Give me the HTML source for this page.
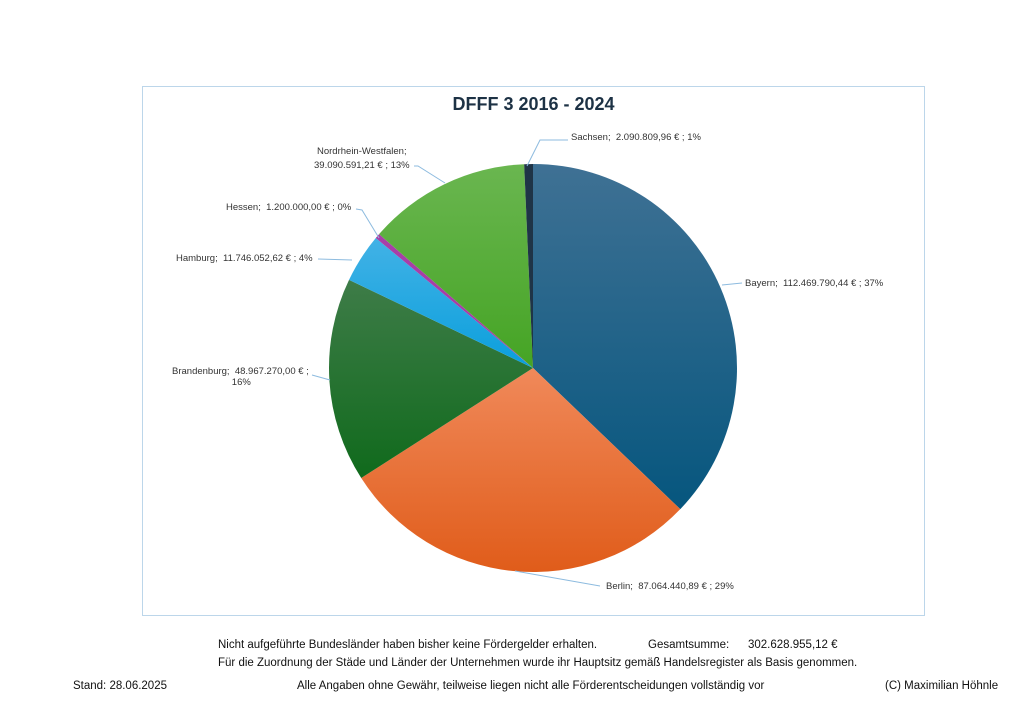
<!DOCTYPE html><html><head><meta charset="utf-8"><style>
body{margin:0;width:1024px;height:724px;background:#fff;position:relative;font-family:"Liberation Sans",sans-serif;overflow:hidden}
.t{position:absolute;white-space:nowrap;color:#333;font-size:9.5px}
.b{position:absolute;white-space:nowrap;color:#111;font-size:11.5px}
</style></head><body>
<div style="position:absolute;left:142px;top:86px;width:781px;height:528px;border:1px solid #bcd6ea"></div>
<div style="position:absolute;left:142px;width:783px;top:94px;text-align:center;font-weight:bold;font-size:18px;color:#1d3245">DFFF 3 2016 - 2024</div>
<svg width="1024" height="724" style="position:absolute;left:0;top:0">
<defs>
<linearGradient id="g0" x1="0" y1="0" x2="0" y2="1"><stop offset="0" stop-color="#3f7194"/><stop offset="1" stop-color="#06567e"/></linearGradient>
<linearGradient id="g1" x1="0" y1="0" x2="0" y2="1"><stop offset="0" stop-color="#f0895a"/><stop offset="1" stop-color="#e05c1a"/></linearGradient>
<linearGradient id="g2" x1="0" y1="0" x2="0" y2="1"><stop offset="0" stop-color="#3e7c48"/><stop offset="1" stop-color="#106a1c"/></linearGradient>
<linearGradient id="g3" x1="0" y1="0" x2="0" y2="1"><stop offset="0" stop-color="#42b2e6"/><stop offset="1" stop-color="#0a9fdc"/></linearGradient>
<linearGradient id="g5" x1="0" y1="0" x2="0" y2="1"><stop offset="0" stop-color="#6ab650"/><stop offset="1" stop-color="#45a424"/></linearGradient>
</defs>
<g id="pie"></g>
<g stroke="#8dbbdf" stroke-width="1" fill="none">
<polyline points="527,166 540,140 568,140"/>
<polyline points="722,285 742,283"/>
<polyline points="515,571 600,586"/>
<polyline points="330,380 312,375"/>
<polyline points="352,260 318,259"/>
<polyline points="379,238 362,210 356,209"/>
<polyline points="445,183 418,166 414,166"/>
</g>
</svg>
<script>
var v=[112469790.44,87064440.89,48967270,11746052.62,1200000,39090591.21,2090809.96];
var f=["url(#g0)","url(#g1)","url(#g2)","url(#g3)","#a83ea8","url(#g5)","#1f3447"];
var T=v.reduce((a,b)=>a+b),cx=533,cy=368,r=204,a=0,s="";
for(var i=0;i<v.length;i++){var a2=a+v[i]/T*2*Math.PI;
var x1=cx+r*Math.sin(a),y1=cy-r*Math.cos(a),x2=cx+r*Math.sin(a2),y2=cy-r*Math.cos(a2);
s+='<path d="M'+cx+','+cy+'L'+x1+','+y1+'A'+r+','+r+' 0 '+(a2-a>Math.PI?1:0)+' 1 '+x2+','+y2+'Z" fill="'+f[i]+'"/>';a=a2;}
document.getElementById("pie").innerHTML=s;
</script>
<div class="t" style="left:571px;top:132px">Sachsen;&nbsp; 2.090.809,96 € ; 1%</div>
<div class="t" style="left:745px;top:278px">Bayern;&nbsp; 112.469.790,44 € ; 37%</div>
<div class="t" style="left:606px;top:581px">Berlin;&nbsp; 87.064.440,89 € ; 29%</div>
<div class="t" style="left:172px;top:366px;text-align:right">Brandenburg;&nbsp; 48.967.270,00 € ;<br><span style="margin-right:58px">16%</span></div>
<div class="t" style="left:176px;top:253px">Hamburg;&nbsp; 11.746.052,62 € ; 4%</div>
<div class="t" style="left:226px;top:202px">Hessen;&nbsp; 1.200.000,00 € ; 0%</div>
<div class="t" style="left:314px;top:145px;text-align:center;line-height:14px">Nordrhein-Westfalen;<br>39.090.591,21 € ; 13%</div>
<div class="b" style="left:218px;top:639px">Nicht aufgeführte Bundesländer haben bisher keine Fördergelder erhalten.</div>
<div class="b" style="left:648px;top:639px">Gesamtsumme:</div>
<div class="b" style="left:748px;top:639px">302.628.955,12 €</div>
<div class="b" style="left:218px;top:657px">Für die Zuordnung der Städe und Länder der Unternehmen wurde ihr Hauptsitz gemäß Handelsregister als Basis genommen.</div>
<div class="b" style="left:73px;top:680px">Stand: 28.06.2025</div>
<div class="b" style="left:297px;top:680px">Alle Angaben ohne Gewähr, teilweise liegen nicht alle Förderentscheidungen vollständig vor</div>
<div class="b" style="left:885px;top:680px">(C) Maximilian Höhnle</div>
</body></html>
